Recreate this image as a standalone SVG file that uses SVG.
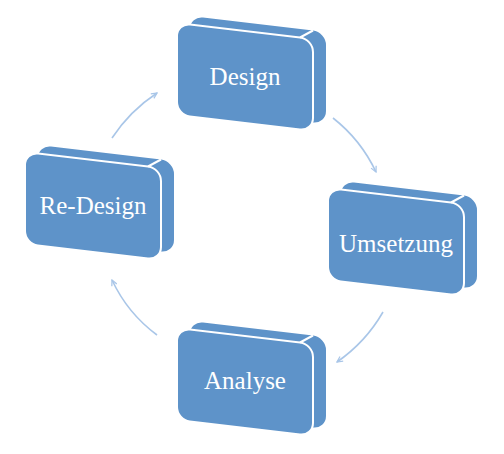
<svg xmlns="http://www.w3.org/2000/svg" xmlns:xlink="http://www.w3.org/1999/xlink" width="504" height="454" viewBox="0 0 504 454">
<style>
.face{fill:#5E93C9}
.front{fill:#5E93C9;stroke:#FFFFFF;stroke-width:2}
.edge{fill:none;stroke:#FFFFFF;stroke-width:2}
.lbl{font-family:"Liberation Serif","DejaVu Serif",serif;font-size:25px;fill:#FFFFFF;text-anchor:middle}
.arc{fill:none;stroke:#A9C6E8;stroke-width:1.6;marker-end:url(#ah)}
</style>
<defs>
<marker id="ah" viewBox="0 0 10 10" refX="9" refY="5" markerWidth="7" markerHeight="7" markerUnits="userSpaceOnUse" orient="auto">
<path d="M1,1 L9,5 L1,9" fill="none" stroke="#A9C6E8" stroke-width="1.8"/>
</marker>
<g id="box">
<rect class="face" x="13" y="-8.5" width="136" height="92" rx="13" ry="13" transform="skewY(6.71)"/>
<rect class="front" x="0" y="0" width="136" height="92" rx="13" ry="13" transform="skewY(6.71)"/>
<line class="edge" x1="123" y1="14.5" x2="136" y2="7.5"/>
</g>
</defs>
<g id="connectors">
<path class="arc" d="M333,118 A150,150 0 0,1 376,172"/>
<path class="arc" d="M383,312 A155,155 0 0,1 337,362"/>
<path class="arc" d="M157,335 A145,145 0 0,1 112,280"/>
<path class="arc" d="M112,138 A160,160 0 0,1 157,93"/>
</g>
<g id="design">
<use xlink:href="#box" transform="translate(177,23)"/>
<text class="lbl" x="245" y="85">Design</text>
</g>
<g id="umsetzung">
<use xlink:href="#box" transform="translate(328,188)"/>
<text class="lbl" x="396" y="252">Umsetzung</text>
</g>
<g id="analyse">
<use xlink:href="#box" transform="translate(177,328)"/>
<text class="lbl" x="245" y="389">Analyse</text>
</g>
<g id="redesign">
<use xlink:href="#box" transform="translate(25,152)"/>
<text class="lbl" x="93" y="214">Re-Design</text>
</g>
</svg>
